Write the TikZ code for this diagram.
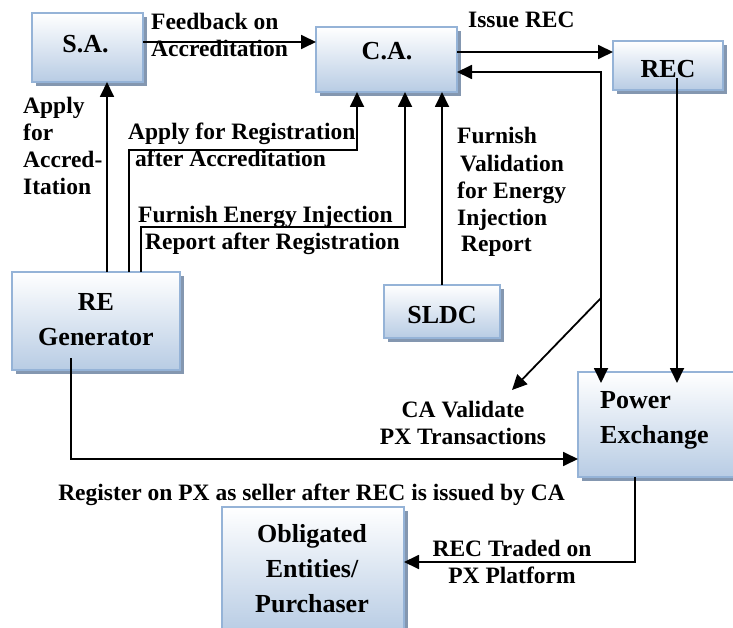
\documentclass[tikz,border=0pt]{standalone}
\usepackage{fontspec}
\setmainfont{Liberation Serif}
\usetikzlibrary{arrows.meta,shadows}
\definecolor{boxtop}{HTML}{FFFFFF}
\definecolor{boxbot}{HTML}{B8CCE4}
\definecolor{boxline}{HTML}{95B3D7}
\definecolor{boxshadow}{HTML}{8497B0}
\begin{document}
\begin{tikzpicture}[x=1pt,y=-1pt,
 box/.style={draw=boxline, line width=2.2pt, top color=boxtop, bottom color=boxbot,
   drop shadow={shadow xshift=4pt,shadow yshift=-4pt,fill=boxshadow,opacity=1},
   inner sep=0pt, outer sep=0pt},
 btxt/.style={font=\fontsize{26}{35}\selectfont\bfseries, inner sep=0pt, align=center},
 lab/.style={font=\fontsize{23.5}{27}\selectfont\bfseries, inner sep=0pt},
 arr/.style={line width=1.8pt, -{Triangle[length=15pt,width=14pt]}},
 arrb/.style={line width=1.8pt, {Triangle[length=15pt,width=14pt]}-{Triangle[length=15pt,width=14pt]}},
 ]
\useasboundingbox (0,0) rectangle (733,628);
% boxes
\node[box, minimum width=111pt, minimum height=69pt] (SA) at (87.5,47.5) {};
\node[box, minimum width=141pt, minimum height=65pt] (CA) at (386.5,59.5) {};
\node[box, minimum width=110pt, minimum height=49pt] (REC) at (668,65.5) {};
\node[box, minimum width=168pt, minimum height=98pt] (REG) at (96,321) {};
\node[box, minimum width=116pt, minimum height=53pt] (SLDC) at (442,311.5) {};
\node[box, minimum width=158pt, minimum height=105pt] (PX) at (657,424.5) {};
\node[box, minimum width=182pt, minimum height=126pt] (OBL) at (313,570) {};
% box texts (base anchor = last line's baseline)
\node[btxt, anchor=base] (SAt) at (85.5,53) {S.A.};
\node[btxt, anchor=base] (CAt) at (387,60) {C.A.};
\node[btxt, anchor=base] (RECt) at (668,78) {REC};
\node[btxt, anchor=base] (REGt) at (96,345) {RE\\Generator};
\node[btxt, anchor=base] (SLDCt) at (442,323) {SLDC};
\node[btxt, anchor=base west, align=left] (PXt) at (600,443) {Power\\Exchange};
\node[btxt, anchor=base] (OBLt) at (312,612) {Obligated\\Entities/\\Purchaser};
% labels
\node[lab, anchor=base west, align=left] (l1) at (151,57) {Feedback on\\Accreditation};
\node[lab, anchor=base west] (l2) at (468,28) {Issue REC};
\node[lab, anchor=base west, align=left] (l3) at (23,195) {Apply\\for\\Accred-\\Itation};
\node[lab, anchor=base west] (l4) at (128,140) {Apply for Registration};
\node[lab, anchor=base west] (l5) at (135,167) {after Accreditation};
\node[lab, anchor=base west] (l6) at (138,223) {Furnish Energy Injection};
\node[lab, anchor=base west] (l7) at (145,250) {Report after Registration};
\node[lab, anchor=base west, align=left] (l8) at (457,252) {Furnish\\\hspace{3pt}Validation\\for Energy\\Injection\\\hspace{4pt}Report};
\node[lab, anchor=base, align=center] (l9) at (463,444) {CA Validate\\PX Transactions};
\node[lab, anchor=base] (l10) at (311.5,500) {Register on PX as seller after REC is issued by CA};
\node[lab, anchor=base, align=center] (l11) at (512,583) {REC Traded on\\PX Platform};
% coordinates
\coordinate (fa) at ([yshift=5.5pt]SA.east);
\coordinate (g1) at ([xshift=11pt]REG.north);
\coordinate (g2) at ([xshift=33pt]REG.north);
\coordinate (g3) at ([xshift=45pt]REG.north);
\coordinate (b2) at (357,150);
\coordinate (b3) at (405,227);
\coordinate (ir) at ([yshift=7.5pt]CA.east);
\coordinate (b7) at (601,72);
\coordinate (pxin) at ([yshift=-11pt]PX.north);
\coordinate (d1) at (601,298);
\coordinate (d2) at (512,390);
\coordinate (r1) at (677,78);
\coordinate (g4) at (71,358);
\coordinate (px4) at ([yshift=-34.5pt]PX.west);
\coordinate (p5) at (635,477);
\coordinate (o5) at ([yshift=8pt]OBL.east);
% connectors
\draw[arr] (fa) -- (fa -| CA.west);
\draw[arr] (g1) -- (g1 |- SA.south);
\draw[arr] (g2) |- (b2) -- (b2 |- CA.south);
\draw[arr] (g3) |- (b3) -- (b3 |- CA.south);
\draw[arr] (SLDC.north) -- (SLDC.north |- CA.south);
\draw[arr] (ir) -- (ir -| REC.west);
\draw[arrb] (b7 -| CA.east) -- (b7) -- (b7 |- pxin);
\draw[arr] (d1) -- (d2);
\draw[arr] (r1) -- (r1 |- pxin);
\draw[arr] (g4) |- (px4);
\draw[arr] (p5) |- (o5);
\end{tikzpicture}
\end{document}
